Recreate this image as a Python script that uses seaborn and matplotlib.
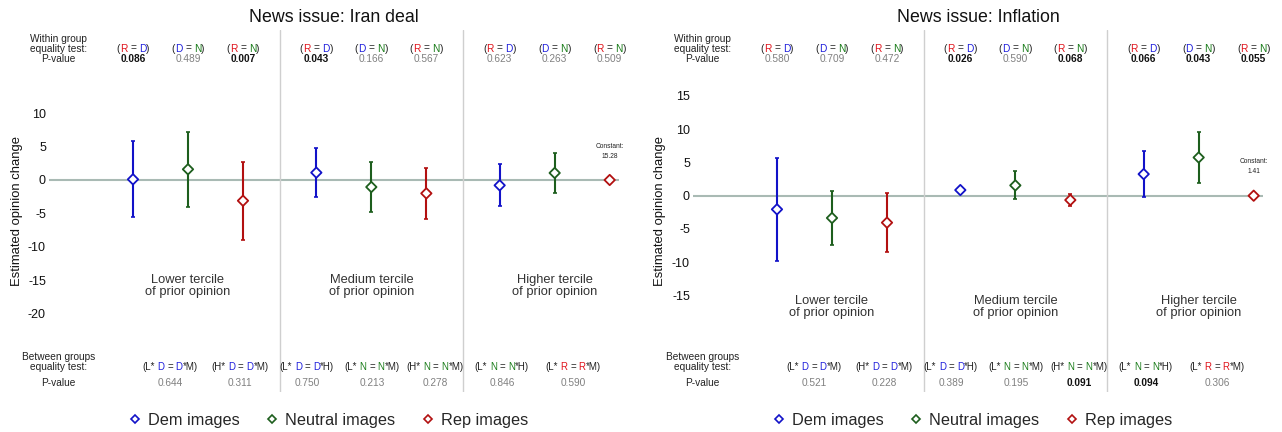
import numpy as np
import pandas as pd
import matplotlib
matplotlib.use("Agg")
import matplotlib.pyplot as plt
import seaborn as sns
from matplotlib import transforms
from matplotlib.font_manager import FontProperties
from matplotlib.lines import Line2D

sns.set_theme(style="white")
FAMILY = ["Liberation Sans", "DejaVu Sans"]
plt.rcParams["font.family"] = FAMILY
plt.rcParams["axes.unicode_minus"] = False

# ---------------- data ----------------
panel_titles = ["News issue: Iran deal", "News issue: Inflation"]
terciles = ["Lower tercile\nof prior opinion", "Medium tercile\nof prior opinion",
            "Higher tercile\nof prior opinion"]
image_types = ["Dem images", "Neutral images", "Rep images"]

# order: (Lower: Dem, Neutral, Rep), (Medium: ...), (Higher: ...)
iran_est = [0.1, 1.6, -3.1, 1.1, -1.05, -2.0, -0.8, 1.05, 0.0]
iran_lo = [-5.5, -4.0, -9.0, -2.6, -4.8, -5.8, -3.9, -1.95, np.nan]
iran_hi = [5.8, 7.1, 2.7, 4.8, 2.7, 1.8, 2.4, 4.0, np.nan]

infl_est = [-2.05, -3.35, -4.05, 0.85, 1.55, -0.65, 3.25, 5.75, 0.0]
infl_lo = [-9.8, -7.4, -8.5, 0.5, -0.55, -1.55, -0.15, 1.95, np.nan]
infl_hi = [5.7, 0.75, 0.45, 1.2, 3.75, 0.3, 6.65, 9.55, np.nan]

constants = ["15.28", "1.41"]

within_tests = ["(R = D)", "(D = N)", "(R = N)"] * 3
iran_within_p = [0.086, 0.489, 0.007, 0.043, 0.166, 0.567, 0.623, 0.263, 0.509]
infl_within_p = [0.580, 0.709, 0.472, 0.026, 0.590, 0.068, 0.066, 0.043, 0.055]

between_tests = ["(L* D = D*M)", "(H* D = D*M)", "(L* D = D*H)", "(L* N = N*M)",
                 "(H* N = N*M)", "(L* N = N*H)", "(L* R = R*M)"]
iran_between_p = [0.644, 0.311, 0.750, 0.213, 0.278, 0.846, 0.590]
infl_between_p = [0.521, 0.228, 0.389, 0.195, 0.091, 0.094, 0.306]

yticks_list = [[-20, -15, -10, -5, 0, 5, 10], [-15, -10, -5, 0, 5, 10, 15]]

# ---------------- style / layout ----------------
W, H = 1282, 432
palette = {"Dem images": "#1212c8", "Neutral images": "#1d5e1d", "Rep images": "#b21010"}
letter_colors = {"R": "#e0141c", "D": "#2020dc", "N": "#1b7d1b"}
DARK = "#222222"
GRAY = "#808080"

fig = plt.figure(figsize=(W / 100, H / 100), dpi=100)
renderer = fig.canvas.get_renderer()


def px_rect(x, top, w, h):
    return [x / W, 1 - (top + h) / H, w / W, h / H]


ax_rects = [px_rect(49, 30, 570, 362), px_rect(693, 30, 570, 362)]
ylims = [(-31.69, 22.42), (-29.52, 24.92)]
tercile_label_y = [-15.9, -16.7]
constant_y = [4.2, 4.45]
GROUP_STEP = 10 / 3
xlim = (-1.527, 8.836)
footer_x = [0.673, 1.945, 3.164, 4.345, 5.491, 6.709, 8.0]
label_col_x = -1.35
HDR_FS = 7.3
FOOT_FS = 7.0


def text_w(s, fp):
    w, h, d = renderer.get_text_width_height_descent(s, fp, ismath=False)
    return w


def colored_text(ax, x, ybase_px, s, fs=HDR_FS):
    fp = FontProperties(family=FAMILY, size=fs)
    base = transforms.blended_transform_factory(ax.transData, fig.transFigure)
    yf = 1 - ybase_px / H
    total = text_w(s, fp)
    bar = text_w("|", fp)
    runs = []
    i = 0
    while i < len(s):
        c = s[i]
        if c == " ":
            i += 1
            continue
        col = letter_colors.get(c, DARK)
        j = i
        while j < len(s) and s[j] != " " and letter_colors.get(s[j], DARK) == col:
            j += 1
        runs.append((i, s[i:j], col))
        i = j
    for start, piece, col in runs:
        off = (text_w(s[:start] + "|", fp) - bar) if start > 0 else 0.0
        tr = transforms.offset_copy(base, fig=fig, x=-total / 2 + off, y=0, units="dots")
        ax.text(x, yf, piece, transform=tr, ha="left", va="baseline", fontsize=fs,
                color=col, clip_on=False)


def plain_text(ax, x, ybase_px, s, fs=HDR_FS, **kw):
    base = transforms.blended_transform_factory(ax.transData, fig.transFigure)
    ax.text(x, 1 - ybase_px / H, s, transform=base, ha="center", va="baseline",
            fontsize=fs, clip_on=False, **kw)


def pval_text(ax, x, ybase_px, p):
    if p < 0.1:
        plain_text(ax, x, ybase_px, f"{p:.3f}", color="#111111", fontweight="bold")
    else:
        plain_text(ax, x, ybase_px, f"{p:.3f}", color=GRAY)


panels = [
    (iran_est, iran_lo, iran_hi, iran_within_p, iran_between_p),
    (infl_est, infl_lo, infl_hi, infl_within_p, infl_between_p),
]

for pi, (est, lo, hi, wp, bp) in enumerate(panels):
    ax = fig.add_axes(ax_rects[pi])
    ax.set_xlim(*xlim)
    ax.set_ylim(*ylims[pi])

    rows = []
    for g in range(3):
        for k in range(3):
            idx = g * 3 + k
            rows.append({"tercile": terciles[g], "images": image_types[k],
                         "x": g * GROUP_STEP + k, "est": est[idx],
                         "lo": lo[idx], "hi": hi[idx]})
    df = pd.DataFrame(rows)

    ax.axhline(0, color="#a9bab4", lw=1.5, zorder=1)
    for sep in [GROUP_STEP * 0.8, GROUP_STEP * 1.8]:
        ax.axvline(sep, color="#cfcfcf", lw=1.0, zorder=1)

    for k, it in enumerate(image_types):
        sub = df[(df["images"] == it) & df["lo"].notna()]
        ax.errorbar(sub["x"], sub["est"],
                    yerr=[sub["est"] - sub["lo"], sub["hi"] - sub["est"]],
                    fmt="none", ecolor=palette[it], elinewidth=1.5,
                    capsize=1.6, capthick=1.2, zorder=3)

    sns.scatterplot(data=df, x="x", y="est", hue="images", hue_order=image_types,
                    palette=palette, marker="D", s=28, linewidth=1.3,
                    legend=False, ax=ax, zorder=4)
    coll = ax.collections[-1]
    fc = coll.get_facecolors()
    coll.set_edgecolors(fc)
    coll.set_facecolors("white")

    # tercile labels
    for g in range(3):
        ax.text(g * GROUP_STEP + 1, tercile_label_y[pi], terciles[g], ha="center",
                va="center", fontsize=9.3, color="#333333", linespacing=1.0)

    # constant
    ax.text(2 * GROUP_STEP + 2, constant_y[pi], "Constant:\n" + constants[pi],
            ha="center", va="center", fontsize=4.8, color="#222222", linespacing=1.6)

    # axes styling
    ax.set_xticks([])
    ax.set_xlabel("")
    ax.set_yticks(yticks_list[pi])
    ax.set_yticklabels([str(t) for t in yticks_list[pi]])
    ax.tick_params(axis="y", length=0, pad=2.2, labelsize=9, labelcolor="#111111")
    ax.set_ylabel("Estimated opinion change", fontsize=9.4, color="#111111", va="center")
    ax.yaxis.set_label_coords(-0.057 if pi == 0 else -0.058, 0.5)
    sns.despine(ax=ax, left=True, bottom=True)
    ax.grid(False)

    # header (within group tests)
    plain_text(ax, label_col_x, 41.5, "Within group", color=DARK)
    plain_text(ax, label_col_x, 51.5, "equality test:", color=DARK)
    plain_text(ax, label_col_x, 62.5, "P-value", color=DARK)
    for i in range(9):
        g, k = divmod(i, 3)
        xx = g * GROUP_STEP + k
        colored_text(ax, xx, 51.5, within_tests[i])
        pval_text(ax, xx, 62.5, wp[i])

    # footer (between group tests)
    plain_text(ax, label_col_x, 360.5, "Between groups", color=DARK)
    plain_text(ax, label_col_x, 370.5, "equality test:", color=DARK)
    plain_text(ax, label_col_x, 385.5, "P-value", color=DARK)
    for i in range(7):
        colored_text(ax, footer_x[i], 370.5, between_tests[i], fs=FOOT_FS)
        pval_text(ax, footer_x[i], 385.5, bp[i])

    # title
    cx = ax_rects[pi][0] + ax_rects[pi][2] / 2
    fig.text(cx, 1 - 17 / H, panel_titles[pi], ha="center", va="center",
             fontsize=12.8, color="#111111")

    # legend
    handles = [Line2D([], [], marker="D", ls="none", mfc="white", mec=palette[it],
                      mew=1.2, ms=4.5, label=it) for it in image_types]
    ax.legend(handles=handles, loc="center", bbox_to_anchor=(0.49, (392 - 420) / 362),
              ncol=3, frameon=False, fontsize=11.7, handlelength=0.8,
              handletextpad=0.4, columnspacing=1.6, borderaxespad=0)

fig.savefig("out.png", dpi=100)
